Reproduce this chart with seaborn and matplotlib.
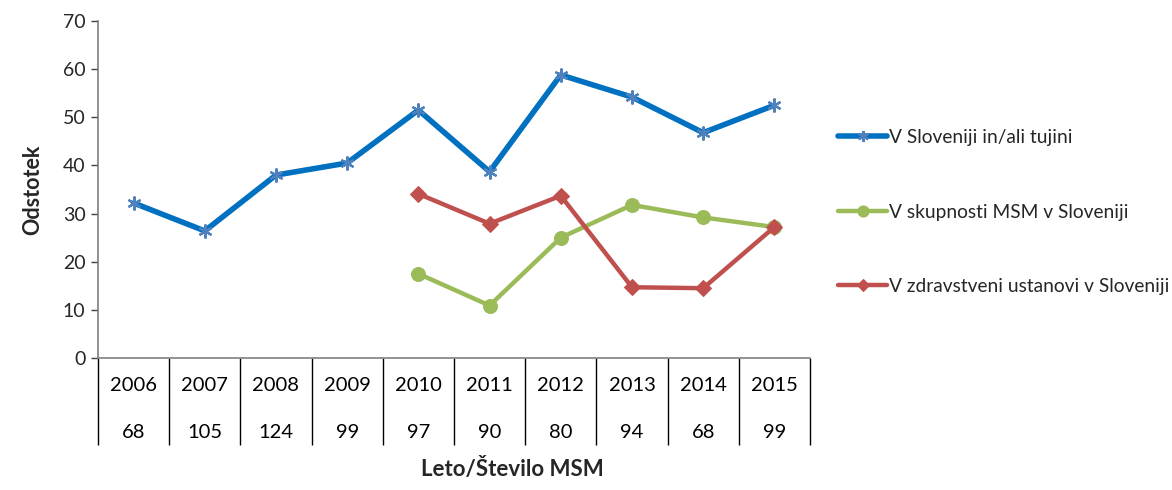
import matplotlib
matplotlib.use("Agg")
import matplotlib.pyplot as plt
import matplotlib.transforms as mtransforms
import seaborn as sns
import numpy as np

years = ["2006", "2007", "2008", "2009", "2010", "2011", "2012", "2013", "2014", "2015"]
counts = ["68", "105", "124", "99", "97", "90", "80", "94", "68", "99"]

slo_tujina = [32.2, 26.4, 38.0, 40.5, 51.5, 38.7, 58.8, 54.2, 46.8, 52.5]
skupnost = [np.nan, np.nan, np.nan, np.nan, 17.5, 10.9, 25.0, 31.8, 29.2, 27.2]
zdrav_ustanova = [np.nan, np.nan, np.nan, np.nan, 34.1, 27.9, 33.7, 14.7, 14.5, 27.2]

labels = ["V Sloveniji in/ali tujini", "V skupnosti MSM v Sloveniji", "V zdravstveni ustanovi v Sloveniji"]

sns.set_style("white")
plt.rcParams["font.family"] = ["Lato", "DejaVu Sans"]

fig = plt.figure(figsize=(11.72, 4.9), dpi=100)
ax = fig.add_axes([0.0836, 0.2694, 0.6075, 0.6877])

pos = np.arange(len(years))

sns.lineplot(x=pos, y=slo_tujina, ax=ax, color="#0070C0", linewidth=4.0,
             marker=(6, 2, 0), markersize=10, markeredgecolor="#4F81BD",
             markeredgewidth=1.6, label=labels[0])
sns.lineplot(x=pos, y=skupnost, ax=ax, color="#9BBB59", linewidth=3.2,
             marker="o", markersize=10, markeredgecolor="#9BBB59",
             markerfacecolor="#9BBB59", label=labels[1])
sns.lineplot(x=pos, y=zdrav_ustanova, ax=ax, color="#C0504D", linewidth=3.2,
             marker="D", markersize=8, markeredgecolor="#C0504D",
             markerfacecolor="#C0504D", label=labels[2])

ax.set_xlim(-0.5, len(years) - 0.5)
ax.set_ylim(0, 70)
ax.set_yticks(range(0, 71, 10))
ax.tick_params(axis="y", direction="out", length=5, width=1, color="#404040",
               labelsize=14, pad=4, left=True)
ax.set_xticks([])
ax.set_xlabel("")
ax.set_ylabel("Odstotek", fontsize=15.5, fontweight="bold", labelpad=14)

for side in ["top", "right"]:
    ax.spines[side].set_visible(False)
for side in ["left", "bottom"]:
    ax.spines[side].set_color("#7f7f7f")
    ax.spines[side].set_linewidth(1.2)

# category table under the axis
trans = mtransforms.blended_transform_factory(ax.transData, ax.transAxes)
bounds = np.arange(len(years) + 1) - 0.5
ax.vlines(bounds, -0.258, 0, transform=trans, colors="#000000", linewidth=1.0, clip_on=False)
for i, (yr, n) in enumerate(zip(years, counts)):
    ax.text(i, -0.083, yr, transform=trans, ha="center", va="center", fontsize=14.5, color="#000000")
    ax.text(i, -0.22, n, transform=trans, ha="center", va="center", fontsize=14.5, color="#000000")

fig.text(0.437, 0.02, "Leto/Število MSM", ha="center", va="bottom", fontsize=16, fontweight="bold")

ax.get_legend().remove()
handles, lbls = ax.get_legend_handles_labels()
fig.legend(handles, lbls, loc="center left", bbox_to_anchor=(0.700, 0.567), frameon=False,
           fontsize=13.8, labelspacing=3.0, handlelength=2.6, handletextpad=0.1, markerscale=0.8)

fig.savefig("out.png", dpi=100)
